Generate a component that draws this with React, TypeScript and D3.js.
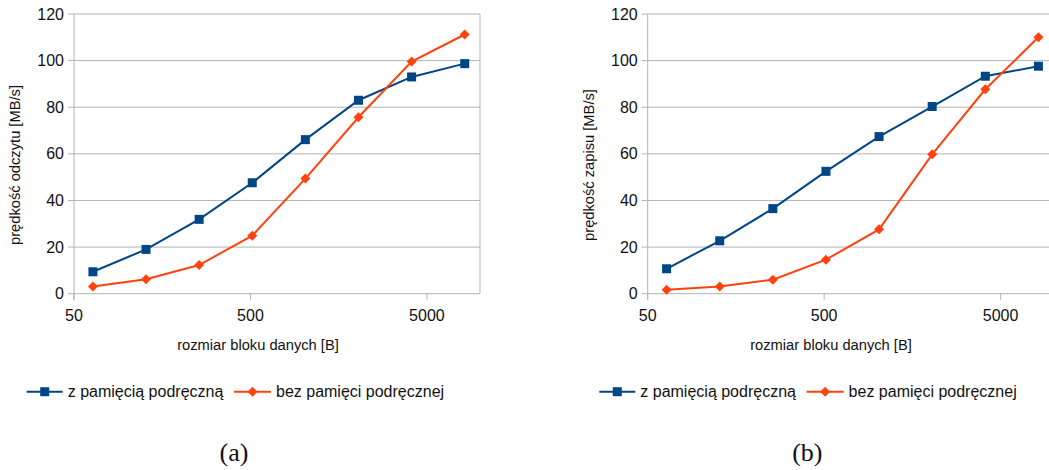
import * as d3 from "d3";

const blockSizes = [64, 128, 256, 512, 1024, 2048, 4096, 8192];
const xTicks = [50, 500, 5000];
const yTicks = [0, 20, 40, 60, 80, 100, 120];

const readCached = [9.4, 19.0, 31.9, 47.6, 66.1, 83.0, 93.0, 98.7];
const readUncached = [3.1, 6.2, 12.3, 24.9, 49.4, 75.7, 99.6, 111.2];
const writeCached = [10.7, 22.7, 36.5, 52.5, 67.4, 80.3, 93.3, 97.6];
const writeUncached = [1.7, 3.1, 6.0, 14.6, 27.6, 59.8, 87.7, 110.0];

const seriesNames = ["z pamięcią podręczną", "bez pamięci podręcznej"];
const BLUE = "#004586";
const ORANGE = "#ff420e";
const GRID = "#b3b3b3";
const FONT = "'Liberation Sans', Arial, sans-serif";

type PanelProps = {
  left: number;
  yTitle: string;
  cached: number[];
  uncached: number[];
  xTitleX: number;
  yTitleX: number;
  legendX: number;
  caption: string;
  captionX: number;
};

function Panel({ left, yTitle, cached, uncached, xTitleX, yTitleX, legendX, caption, captionX }: PanelProps) {
  const top = 14;
  const bottom = 293.7;
  const x = d3.scaleLog().domain([50, 10000]).range([left, left + 406]);
  const y = d3.scaleLinear().domain([0, 120]).range([bottom, top]);
  const line = d3
    .line<number>()
    .x((_, i) => x(blockSizes[i]))
    .y((v) => y(v));
  const diamond = (cx: number, cy: number, r: number) =>
    `M${cx},${cy - r}L${cx + r},${cy}L${cx},${cy + r}L${cx - r},${cy}Z`;
  const legendY = 391.7;

  return (
    <g>
      {yTicks.map((t) => (
        <g key={t}>
          <line x1={left - 6} x2={x(10000)} y1={y(t)} y2={y(t)} stroke={GRID} strokeWidth={1} />
          <text x={left - 10} y={y(t)} dy="0.35em" textAnchor="end" fontSize={16} fill="#111">
            {t}
          </text>
        </g>
      ))}
      <line x1={left} x2={left} y1={top} y2={bottom + 6} stroke={GRID} strokeWidth={1} />
      <line x1={x(10000)} x2={x(10000)} y1={top} y2={bottom} stroke={GRID} strokeWidth={1} />
      {xTicks.map((t) => (
        <g key={t}>
          <line x1={x(t)} x2={x(t)} y1={bottom} y2={bottom + 6} stroke={GRID} strokeWidth={1} />
          <text x={x(t)} y={315} dy="0.35em" textAnchor="middle" fontSize={16} fill="#111">
            {t}
          </text>
        </g>
      ))}
      <text x={xTitleX} y={345} dy="0.35em" textAnchor="middle" fontSize={14.7} fill="#111">
        rozmiar bloku danych [B]
      </text>
      <text
        transform={`translate(${yTitleX},165) rotate(-90)`}
        dy="0.35em"
        textAnchor="middle"
        fontSize={14.7}
        fill="#111"
      >
        {yTitle}
      </text>

      <path d={line(cached) ?? ""} fill="none" stroke={BLUE} strokeWidth={2} />
      <path d={line(uncached) ?? ""} fill="none" stroke={ORANGE} strokeWidth={2} />
      {cached.map((v, i) => (
        <rect key={`c${i}`} x={x(blockSizes[i]) - 4.5} y={y(v) - 4.5} width={9} height={9} fill={BLUE} />
      ))}
      {uncached.map((v, i) => (
        <path key={`u${i}`} d={diamond(x(blockSizes[i]), y(v), 5)} fill={ORANGE} />
      ))}

      <g>
        <line x1={legendX} x2={legendX + 36} y1={legendY} y2={legendY} stroke={BLUE} strokeWidth={2} />
        <rect x={legendX + 13.5} y={legendY - 4.5} width={9} height={9} fill={BLUE} />
        <text x={legendX + 41} y={legendY} dy="0.35em" fontSize={16} fill="#111">
          {seriesNames[0]}
        </text>
        <line x1={legendX + 207.3} x2={legendX + 244.3} y1={legendY} y2={legendY} stroke={ORANGE} strokeWidth={2} />
        <path d={diamond(legendX + 225.8, legendY, 5)} fill={ORANGE} />
        <text x={legendX + 249.3} y={legendY} dy="0.35em" fontSize={16} fill="#111">
          {seriesNames[1]}
        </text>
      </g>

      <text
        x={captionX}
        y={452}
        dy="0.35em"
        textAnchor="middle"
        fontSize={26}
        fontFamily="'Liberation Serif', 'DejaVu Serif', serif"
        fill="#111"
      >
        {caption}
      </text>
    </g>
  );
}

export default function App() {
  return (
    <svg
      width={1049}
      height={470}
      viewBox="0 0 1049 470"
      style={{ position: "absolute", left: 0, top: 0, background: "#fff" }}
      fontFamily={FONT}
    >
      <Panel
        left={74}
        yTitle="prędkość odczytu [MB/s]"
        cached={readCached}
        uncached={readUncached}
        xTitleX={258}
        yTitleX={15}
        legendX={26.7}
        caption="(a)"
        captionX={234}
      />
      <Panel
        left={647.7}
        yTitle="prędkość zapisu [MB/s]"
        cached={writeCached}
        uncached={writeUncached}
        xTitleX={831}
        yTitleX={589}
        legendX={599.3}
        caption="(b)"
        captionX={807.3}
      />
    </svg>
  );
}
